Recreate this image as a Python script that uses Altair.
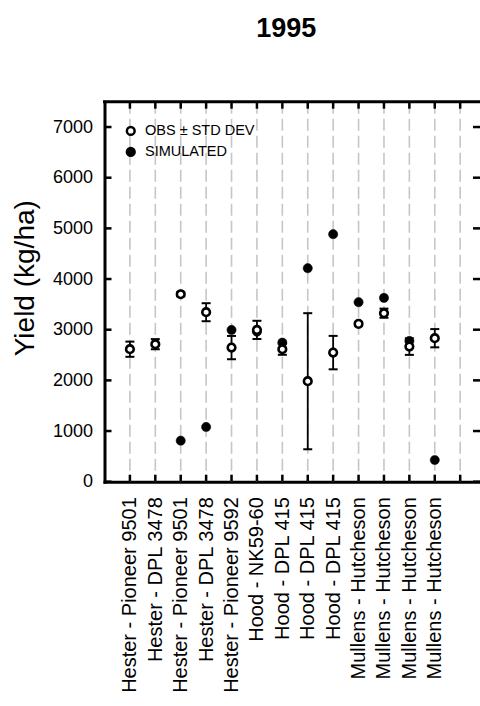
import altair as alt
import pandas as pd

# ---- data ----
labels = [
    "Hester - Pioneer 9501", "Hester - DPL 3478", "Hester - Pioneer 9501",
    "Hester - DPL 3478", "Hester - Pioneer 9592", "Hood - NK59-60",
    "Hood - DPL 415", "Hood - DPL 415", "Hood - DPL 415",
    "Mullens - Hutcheson", "Mullens - Hutcheson", "Mullens - Hutcheson",
    "Mullens - Hutcheson",
]
positions = list(range(1, 14))
obs = [2615, 2714, 3700, 3345, 2647, 2996, 2615, 1983, 2548, 3115, 3326, 2667, 2832]
obs_sd = [150, 100, 40, 178, 230, 180, 110, 1343, 330, 40, 90, 164, 180]
sim = [None, None, 810, 1080, 2996, 2960, 2746, 4214, 4886, 3543, 3628, 2779, 428]
grid_positions = list(range(1, 15))
y_ticks = [0, 1000, 2000, 3000, 4000, 5000, 6000, 7000]
series_names = ["OBS \u00b1 STD DEV", "SIMULATED"]

X_MAX = 14.78
Y_MAX = 7500
FONT = "Liberation Sans"

df_obs = pd.DataFrame({"pos": positions, "value": obs, "sd": obs_sd,
                       "series": series_names[0]})
df_obs["lo"] = df_obs["value"] - df_obs["sd"]
df_obs["hi"] = df_obs["value"] + df_obs["sd"]
df_sim = pd.DataFrame({"pos": positions, "value": sim, "series": series_names[1]}).dropna()
df_grid = pd.DataFrame({"pos": grid_positions, "ybot": 0, "ytop": Y_MAX})
df_yt = pd.DataFrame({"v": y_ticks, "xl": 0, "xr": X_MAX})
df_top = pd.DataFrame({"ytop": [Y_MAX]})

x_scale = alt.Scale(domain=[0, X_MAX], nice=False, zero=False)
y_scale = alt.Scale(domain=[0, Y_MAX], nice=False)

label_expr = "[" + ",".join("'" + l + "'" for l in labels) + "][datum.value - 1]"

x_axis = alt.Axis(values=positions, labelExpr=label_expr, labelAngle=270,
                  labelAlign="right", labelBaseline="middle", labelFontSize=20,
                  labelFont=FONT, labelColor="black", labelPadding=15,
                  labelLimit=0, labelOverlap=False,
                  ticks=False, grid=False, domain=True, domainWidth=3,
                  domainColor="black", domainCap="square", title=None)
y_axis = alt.Axis(values=y_ticks, format="d", labelFontSize=18, labelFont=FONT,
                  labelColor="black", labelPadding=12, ticks=False, grid=False,
                  domain=True, domainWidth=3, domainColor="black",
                  domainCap="square", title="Yield (kg/ha)", titleFont=FONT,
                  titleFontSize=28, titleFontWeight="normal", titleColor="black",
                  titlePadding=13, titleY=176)


def X(field):
    return alt.X(field, type="quantitative", scale=x_scale, axis=x_axis)


def Y(field):
    return alt.Y(field, type="quantitative", scale=y_scale, axis=y_axis)


fill_scale = alt.Scale(domain=series_names, range=["white", "black"])
legend = alt.Legend(title=None, orient="none", legendX=19, legendY=22,
                    labelFont=FONT, labelFontSize=14.5, labelColor="black",
                    symbolType="circle", symbolSize=60, symbolStrokeColor="black",
                    symbolStrokeWidth=2.5, rowPadding=2, labelOffset=7, padding=0)
FILL = alt.Fill("series:N", scale=fill_scale, legend=legend)

grid = alt.Chart(df_grid).mark_rule(color="#c6c6c6", strokeWidth=1.6,
                                    strokeDash=[12, 5]).encode(x=X("pos"))

top_frame = alt.Chart(df_top).mark_rule(color="black", strokeWidth=3,
                                        strokeCap="square").encode(y=Y("ytop"))

tick_style = dict(color="black", thickness=2.5, size=7, opacity=1)
bottom_ticks = alt.Chart(df_grid).mark_tick(orient="vertical", yOffset=-3.5,
                                            **tick_style).encode(x=X("pos"), y=Y("ybot"))
top_ticks = alt.Chart(df_grid).mark_tick(orient="vertical", yOffset=3.5,
                                         **tick_style).encode(x=X("pos"), y=Y("ytop"))
left_ticks = alt.Chart(df_yt).mark_tick(orient="horizontal", xOffset=3.5,
                                        **tick_style).encode(x=X("xl"), y=Y("v"))
right_ticks = alt.Chart(df_yt).mark_tick(orient="horizontal", xOffset=-3.5,
                                         **tick_style).encode(x=X("xr"), y=Y("v"))

sim_pts = alt.Chart(df_sim).mark_point(shape="circle", filled=True, size=85,
                                       stroke="black", strokeWidth=0.5,
                                       opacity=1).encode(x=X("pos"), y=Y("value"), fill=FILL)

err = alt.Chart(df_obs).mark_rule(color="black", strokeWidth=1.8).encode(
    x=X("pos"), y=Y("lo"), y2="hi:Q")
cap_lo = alt.Chart(df_obs).mark_tick(orient="horizontal", size=9, thickness=2,
                                     color="black", opacity=1).encode(x=X("pos"), y=Y("lo"))
cap_hi = alt.Chart(df_obs).mark_tick(orient="horizontal", size=9, thickness=2,
                                     color="black", opacity=1).encode(x=X("pos"), y=Y("hi"))

obs_pts = alt.Chart(df_obs).mark_point(shape="circle", filled=True, size=58,
                                       stroke="black", strokeWidth=2.6,
                                       opacity=1).encode(x=X("pos"), y=Y("value"), fill=FILL)

chart = alt.layer(
    grid, top_frame, bottom_ticks, top_ticks, left_ticks, right_ticks,
    sim_pts, err, cap_lo, cap_hi, obs_pts,
).properties(
    width=375.5,
    height=380,
    autosize=alt.AutoSizeParams(type="none"),
    padding={"left": 104.5, "top": 101.7, "right": 0, "bottom": 224.3},
    title=alt.TitleParams("1995", font=FONT, fontSize=27, fontWeight="bold",
                          color="black", anchor="middle", offset=57, dx=-6),
).configure_view(stroke=None).configure(background="white")

chart.save("out.html", embed_options={"renderer": "svg", "actions": False})
